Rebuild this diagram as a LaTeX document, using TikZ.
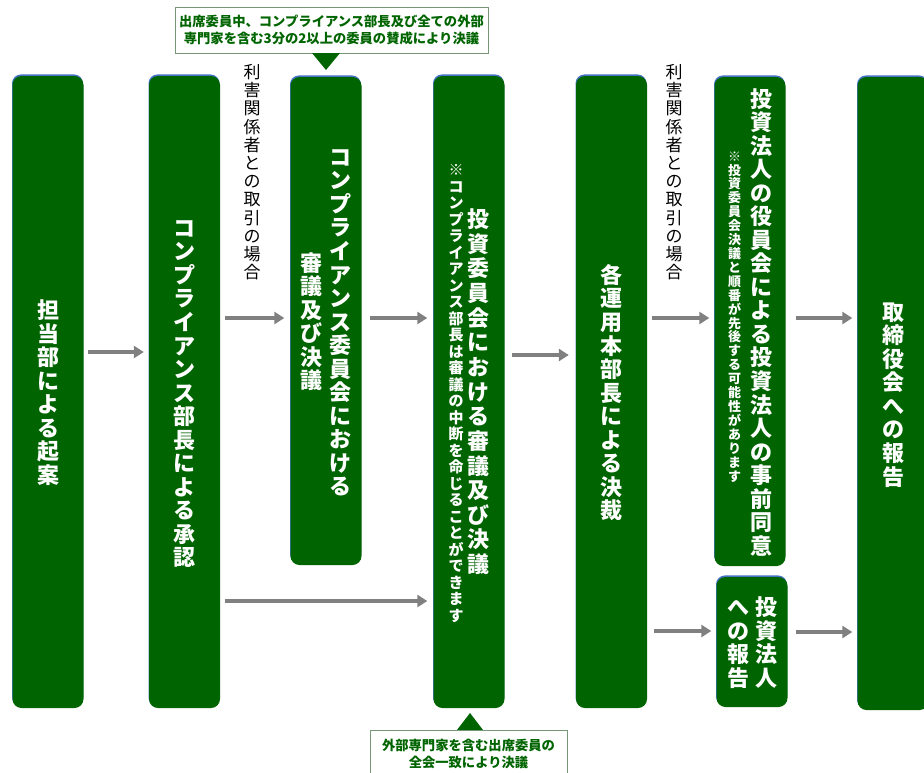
\documentclass[tikz,border=0pt]{standalone}
\usepackage{fontspec}
\setmainfont{Noto Sans CJK JP}
\usetikzlibrary{arrows.meta,shadows,calc}
\definecolor{dgreen}{RGB}{0,100,0}
\definecolor{topblue}{RGB}{68,114,196}
\definecolor{arrgray}{RGB}{128,128,128}
\definecolor{callborder}{RGB}{120,150,120}
\newcommand\vpitch{1.07em}
\newcommand\vch[1]{\hbox to 1em{\hss\vrule width 0pt height \vpitch depth 0pt\raise0.12em\hbox{#1}\hss}}
\ExplSyntaxOn
\NewDocumentCommand\vcol{m}{\ensuremath{\vcenter{\offinterlineskip\tl_map_function:nN {#1} \vch}}}
\ExplSyntaxOff
\tikzset{
  stepbox/.style={rounded corners=9pt, fill=dgreen, inner sep=0pt, minimum width=71pt,
    text=white, font=\bfseries\fontsize{22}{22}\selectfont,
    general shadow={fill=topblue, shadow xshift=-0.5pt, shadow yshift=1.6pt}},
  arr/.style={draw=arrgray, line width=4pt, -{Triangle[length=10pt,width=12pt]}},
  sidelabel/.style={inner sep=0pt, text=black, font=\fontsize{17}{17}\selectfont},
  calltext/.style={inner sep=0pt, text=dgreen, align=center, font=\bfseries\fontsize{13.3}{17}\selectfont},
  callline/.style={draw=callborder, line width=0.8pt}
}
\begin{document}
\begin{tikzpicture}[x=1pt,y=-1pt]
\useasboundingbox (0,0) rectangle (924,772);
\clip (0,0) rectangle (924,772);
% boxes
\node[stepbox, minimum height=632pt] (b1) at (48,392) {\vcol{担当部による起案}};
\node[stepbox, minimum height=632pt] (b2) at (184.5,392) {\vcol{コンプライアンス部長による承認}};
\node[stepbox, minimum height=488pt] (b3) at (326,321) {\vcol{審議及び決議}\hspace{7pt}\vcol{コンプライアンス委員会における}};
\node[stepbox, minimum height=632pt] (b4) at (469,392) {{\fontsize{15}{15}\selectfont\renewcommand\vpitch{1.1em}\vcol{※コンプライアンス部長は審議の中断を命じることができます}}\hspace{4pt}{\renewcommand\vpitch{1.12em}\vcol{投資委員会における審議及び決議}}};
\node[stepbox, minimum height=632pt] (b5) at (611.5,392) {\vcol{各運用本部長による決裁}};
\node[stepbox, minimum height=489pt] (b6) at (750,321.5) {\raisebox{8pt}{\fontsize{13}{13}\selectfont\vcol{※投資委員会決議と順番が先後する可能性があります}}\hspace{9pt}\vcol{投資法人の役員会による投資法人の事前同意}};
\node[stepbox, minimum height=130pt] (b7) at (752,642) {\vcol{への報告}\hspace{6pt}\vcol{投資法人}};
\node[stepbox, minimum height=633pt] (b8) at (893,393.5) {\vcol{取締役会への報告}};
% side labels
\node[sidelabel] (l1) at (252,171.5) {\vcol{利害関係者との取引の場合}};
\node[sidelabel] (l2) at (674,171.5) {\vcol{利害関係者との取引の場合}};
% arrows
\draw[arr] ($(b1.east|-0,352)+(4,0)$) -- ($(b2.west|-0,352)+(-5,0)$);
\draw[arr] ($(b2.east|-0,318)+(5,0)$) -- ($(b3.west|-0,318)+(-6,0)$);
\draw[arr] ($(b3.east|-0,318)+(8,0)$) -- ($(b4.west|-0,318)+(-6,0)$);
\draw[arr] ($(b2.east|-0,601)+(5,0)$) -- ($(b4.west|-0,601)+(-6,0)$);
\draw[arr] ($(b4.east|-0,355)+(7,0)$) -- ($(b5.west|-0,355)+(-7,0)$);
\draw[arr] ($(b5.east|-0,318)+(5,0)$) -- ($(b6.west|-0,318)+(-5,0)$);
\draw[arr] ($(b5.east|-0,631)+(7,0)$) -- ($(b7.west|-0,631)+(-5,0)$);
\draw[arr] ($(b6.east|-0,318)+(10,0)$) -- ($(b8.west|-0,318)+(-5,0)$);
\draw[arr] ($(b7.east|-0,632)+(8,0)$) -- ($(b8.west|-0,632)+(-5,0)$);
% top callout
\node[calltext, callline, fill=white, minimum width=313pt, minimum height=46pt] (c1) at (331.5,30)
  {出席委員中、コンプライアンス部長及び全ての外部\\専門家を含む3分の2以上の委員の賛成により決議};
\fill[dgreen] (312,53) -- (340,53) -- (326,70) -- cycle;
% bottom callout
\fill[dgreen] (457,730) -- (483,730) -- (470,713) -- cycle;
\draw[callline] (370,800) -- (370,730) -- (567,730) -- (567,800);
\node[calltext] (c2) at (468.5,753.5) {外部専門家を含む出席委員の\\全会一致により決議};
\end{tikzpicture}
\end{document}
